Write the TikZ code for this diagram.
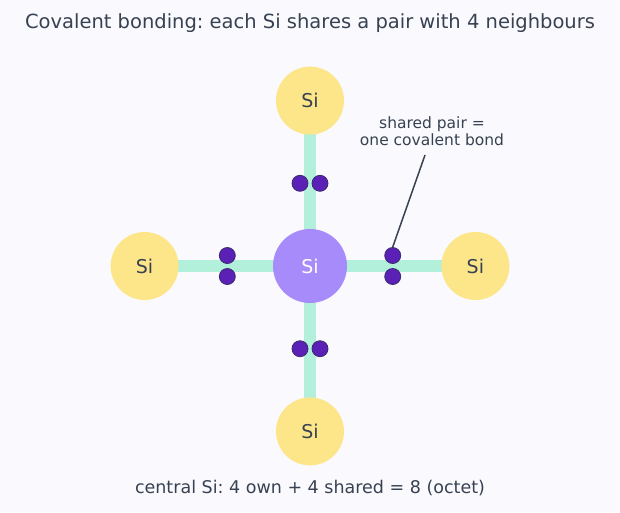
\documentclass[tikz,border=0pt]{standalone}
\usepackage{fontspec}
\setmainfont{DejaVu Sans}
\frenchspacing
\usepackage{tikz}
\usetikzlibrary{positioning, calc, backgrounds}
\definecolor{bgwhite}{HTML}{FAFAFE}
\definecolor{inktext}{HTML}{374151}
\definecolor{siyellow}{HTML}{FDE68A}
\definecolor{sipurple}{HTML}{A78BFA}
\definecolor{bondgreen}{HTML}{B2F0DC}
\definecolor{epurple}{HTML}{5B21B6}
\definecolor{eborder}{HTML}{3B2A6E}
\tikzset{
  atom/.style={
    circle, fill=siyellow, minimum size=68pt, inner sep=0pt,
    font=\fontsize{19}{22}\selectfont, text=inktext
  },
  core/.style={
    circle, fill=sipurple, minimum size=74pt, inner sep=0pt,
    font=\fontsize{19}{22}\selectfont, text=white
  },
  bond/.style={draw=bondgreen, line width=12pt},
  electron/.style={
    circle, fill=epurple, draw=eborder, line width=0.8pt,
    minimum size=16pt, inner sep=0pt
  },
  pointer/.style={draw=inktext, line width=1.5pt},
}

\begin{document}
\begin{tikzpicture}[x=1pt, y=-1pt, node distance=94pt]

\useasboundingbox (0,0) rectangle (620,512);

% Title
\node[text=inktext, font=\fontsize{19.5}{23}\selectfont] (title) at (310,23)
  {Covalent bonding: each Si shares a pair with 4 neighbours};

% Atoms
\node[core] (ctr) at (310,266) {Si};
\node[atom, above=of ctr] (top) {Si};
\node[atom, below=of ctr] (bot) {Si};
\node[atom, left=of ctr] (lft) {Si};
\node[atom, right=of ctr] (rgt) {Si};

% Bonds (behind the atoms)
\begin{scope}[on background layer]
  \fill[bgwhite] (0,0) rectangle (620,512);
  \path[bond] (ctr.center) -- (top.center);
  \path[bond] (ctr.center) -- (bot.center);
  \path[bond] (ctr.center) -- (lft.center);
  \path[bond] (ctr.center) -- (rgt.center);
\end{scope}

% Shared electron pairs
\coordinate (mt) at ($(ctr)!0.5!(top)$);
\coordinate (mb) at ($(ctr)!0.5!(bot)$);
\coordinate (ml) at ($(ctr)!0.5!(lft)$);
\coordinate (mr) at ($(ctr)!0.5!(rgt)$);
\node[electron, xshift=-10pt] (t1) at (mt) {};
\node[electron, xshift=10pt] (t2) at (mt) {};
\node[electron, xshift=-10pt] (b1) at (mb) {};
\node[electron, xshift=10pt] (b2) at (mb) {};
\node[electron, yshift=10.5pt] (l1) at (ml) {};
\node[electron, yshift=-10.5pt] (l2) at (ml) {};
\node[electron, yshift=10.5pt] (r1) at (mr) {};
\node[electron, yshift=-10.5pt] (r2) at (mr) {};

% Annotation
\node[text=inktext, align=center, font=\fontsize{15.5}{17}\selectfont] (note) at (432,131)
  {shared pair =\\one covalent bond};
\coordinate (tail) at (425,155);
\draw[pointer] (tail) -- (r1.north);

% Summary
\node[text=inktext, font=\fontsize{17.5}{20}\selectfont] (sum) at (310,488)
  {central Si: 4 own + 4 shared = 8 (octet)};

\end{tikzpicture}
\end{document}
